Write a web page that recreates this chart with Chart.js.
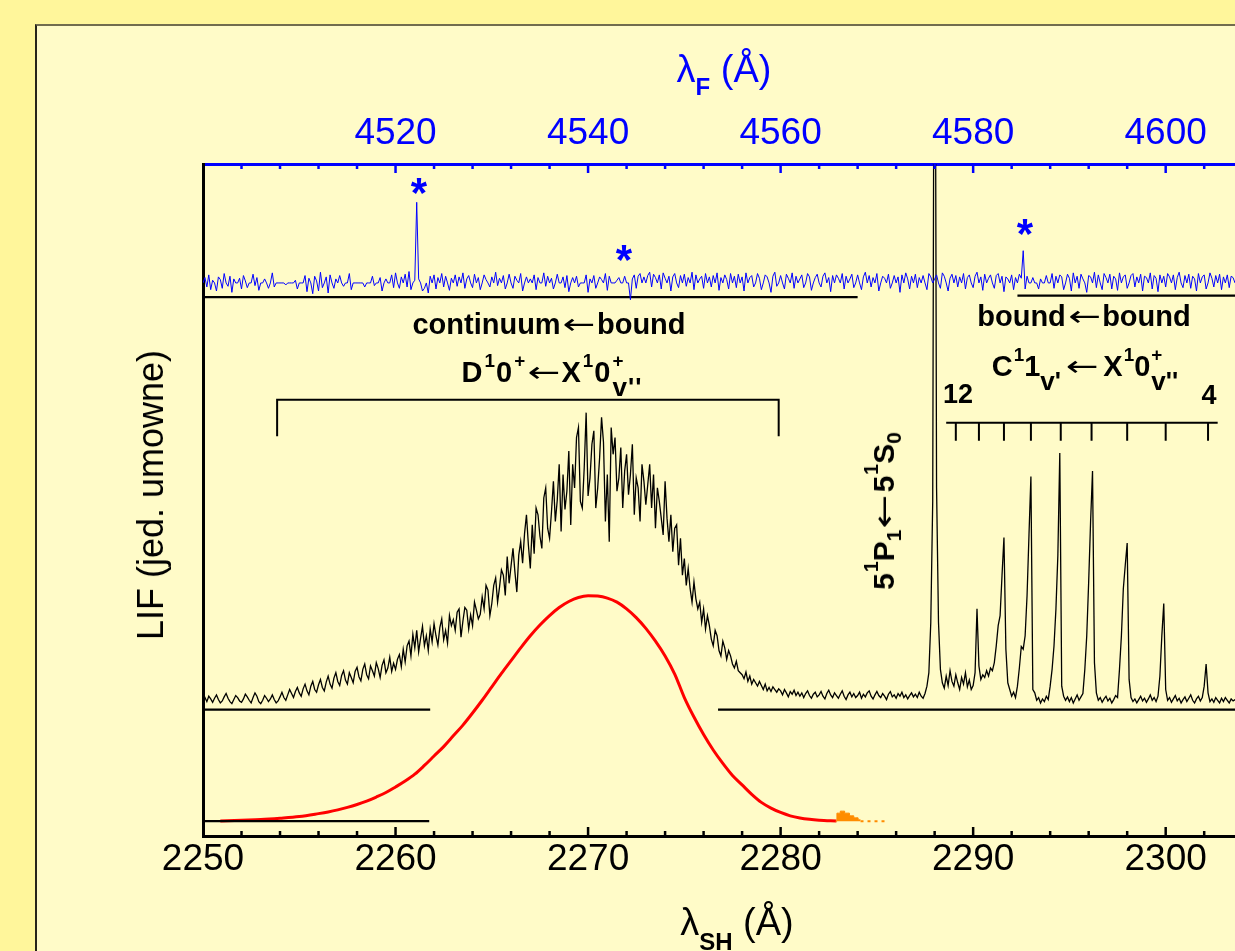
<!DOCTYPE html>
<html><head><meta charset="utf-8">
<script src="https://cdn.jsdelivr.net/npm/chart.js@4/dist/chart.umd.min.js"></script>
<style>
html,body{margin:0;padding:0;}
body{width:1235px;height:951px;overflow:hidden;position:relative;background:#FFF69B;font-family:'Liberation Sans',Arial,sans-serif;}
#panel{position:absolute;left:35px;top:24px;width:1300px;height:1000px;background:#FFFBC8;border-left:2px solid #26241a;border-top:2px solid #716c4e;}
#c{position:absolute;left:0;top:0;z-index:1;}
.t{position:absolute;white-space:nowrap;line-height:1;z-index:2;color:#000;}
.b{font-weight:bold;}
.sp{font-size:0.65em;position:relative;top:-0.8em;margin-left:1px;}
.sp0{font-size:0.65em;position:relative;top:-0.8em;display:inline-block;width:0;margin-left:1px;}
.sb{font-size:0.9em;position:relative;top:0.55em;}
.sb2{font-size:0.7em;position:relative;top:0.35em;}
.ar{font-family:'DejaVu Sans',sans-serif;font-weight:normal;display:inline-block;transform:scaleX(1.35);margin:0 6px;}
.sbt{font-weight:bold;position:relative;}
.ast{position:absolute;width:40px;text-align:center;font-weight:bold;font-size:42px;line-height:1;color:#0000FF;z-index:2;}
</style></head>
<body>
<div id="panel"></div>
<canvas id="c" width="1235" height="951"></canvas>

<div class="t" style="left:724px;top:50px;font-size:38px;color:#0000FF;transform:translateX(-50%)">λ<span class="sbt" style="font-size:24px;top:13px">F</span> (Å)</div>
<div class="t" style="left:737px;top:903px;font-size:38px;transform:translateX(-50%)">λ<span class="sbt" style="font-size:24px;top:15px">SH</span> (Å)</div>
<div class="t" style="left:151px;top:495px;font-size:36px;transform:translate(-50%,-50%) rotate(-90deg)">LIF (jed. umowne)</div>

<div class="ast" style="left:399px;top:172px">*</div>
<div class="ast" style="left:604px;top:239px">*</div>
<div class="ast" style="left:1005px;top:213px">*</div>

<div class="t b" style="left:549px;top:310px;font-size:29px;transform:translateX(-50%)">continuum<span class="ar">←</span>bound</div>
<div class="t b" style="left:552px;top:358px;font-size:29px;letter-spacing:1px;transform:translateX(-50%)">D<span class="sp">1</span>0<span class="sp">+</span><span class="ar" style="margin:0 5px">←</span>X<span class="sp">1</span>0<span class="sp0">+</span><span class="sb">v''</span></div>
<div class="t b" style="left:1084px;top:302px;font-size:29px;transform:translateX(-50%)">bound<span class="ar">←</span>bound</div>
<div class="t b" style="left:1085px;top:352px;font-size:29px;transform:translateX(-50%)">C<span class="sp">1</span>1<span class="sb">v'</span><span class="ar" style="margin:0 9px">←</span>X<span class="sp">1</span>0<span class="sp0">+</span><span class="sb">v''</span></div>
<div class="t b" style="left:958px;top:381px;font-size:27px;transform:translateX(-50%)">12</div>
<div class="t b" style="left:1209px;top:382px;font-size:27px;transform:translateX(-50%)">4</div>
<div class="t b" style="left:884px;top:511px;font-size:30px;transform:translate(-50%,-50%) rotate(-90deg)">5<span class="sp">1</span>P<span class="sb2">1</span><span class="ar">←</span>5<span class="sp">1</span>S<span class="sb2">0</span></div>

<script>
// ---------------- data ----------------
// bottom axis: second-harmonic wavelength (Å); top axis: fundamental wavelength (Å)
const shTickLabels = [2250, 2260, 2270, 2280, 2290, 2300];
const fTickLabels = [4520, 4540, 4560, 4580, 4600];

// LIF excitation spectrum (black), sampled every 0.1 Å from 2250.0 Å
const blackStart = 2250.0, blackStep = 0.1;
const blackLIF = [
14,18,12,20,16,11,17,22,15,10,
13,19,24,17,12,9,15,21,18,13,
11,16,23,19,14,10,18,25,20,12,
9,14,21,17,12,16,22,15,10,13,
19,26,18,14,22,30,24,18,27,33,
25,20,31,38,28,22,35,42,30,26,
37,45,33,28,41,50,38,32,47,55,
42,36,51,58,44,38,55,48,40,57,
63,49,43,60,68,52,46,65,58,50,
70,61,48,66,74,55,62,78,57,69,
60,75,82,64,90,71,95,102,80,112,
92,118,86,106,124,95,110,88,120,101,
128,110,96,122,135,104,118,99,140,125,
134,118,145,150,108,132,152,148,120,141,
125,160,148,135,142,168,150,185,178,140,
158,185,196,160,182,208,200,170,228,188,
214,240,205,175,230,250,218,262,290,245,
210,275,232,300,290,258,240,315,330,270,
255,295,340,280,312,365,265,350,298,325,
385,275,365,330,405,420,310,300,360,442,
318,345,395,415,300,330,375,435,398,280,
350,250,420,380,405,325,345,390,300,355,
380,320,350,395,290,345,330,280,365,340,
305,335,365,300,350,270,330,310,285,260,
340,285,250,290,235,270,275,215,255,200,
225,185,210,180,160,190,165,150,160,130,
150,120,140,125,105,95,118,110,88,80,
102,92,75,88,80,68,62,72,58,55,
52,46,56,42,50,38,45,40,35,42,
36,30,38,28,33,27,34,30,26,31,
28,22,30,25,19,27,23,29,21,26,
20,25,18,24,28,21,17,23,26,19,
22,27,20,16,24,29,22,18,25,21,
17,23,28,20,15,22,26,19,24,18,
21,26,17,23,19,25,28,20,16,22,
27,21,18,24,20,15,23,27,19,22,
17,24,20,26,18,22,16,21,25,19,
23,18,26,20,17,24,35,55,130,310,
1400,330,130,60,40,32,50,36,58,42,
35,52,40,30,48,38,55,34,44,30,
36,55,150,65,45,52,48,58,50,62,
58,70,95,125,140,200,256,90,40,30,
20,26,18,35,62,94,90,110,170,260,
347,30,25,14,18,10,16,12,20,15,
35,60,95,150,230,382,35,20,14,19,
12,18,10,16,22,14,19,24,60,110,
190,280,355,70,25,14,18,11,16,20,
13,17,10,15,21,18,60,110,180,215,
248,45,18,12,16,10,15,20,13,17,
11,16,22,14,18,12,20,50,110,158,
30,14,18,11,16,21,13,17,10,15,
19,12,17,22,14,10,16,20,13,18,
35,68,25,12,16,11,18,14,10,17,
12,18,14,10,16,13,15
];

// fluorescence spectrum (blue), sampled every 0.2 Å of lambda_F from 4500.0 Å
const blueStart = 4500.0, blueStep = 0.2;
const blueLIF = [
0,8,-6,12,-10,4,0,-12,9,5,
-8,14,0,-5,10,-14,6,0,0,7,
-9,11,3,-7,0,0,13,-4,8,-11,
0,0,6,0,-8,0,15,-6,0,0,
0,0,0,-3,0,0,0,0,4,-9,
0,0,0,11,-13,7,0,-16,10,3,
-12,16,-7,0,9,-15,12,0,-8,6,
0,11,0,-5,0,0,14,-10,0,0,
0,0,0,0,-6,0,0,0,10,-4,
0,0,8,-12,0,6,0,0,12,-7,
15,0,-8,9,0,13,-6,17,-10,0,
4,120,6,0,-12,-8,0,-15,10,0,
12,-9,8,0,14,-6,10,0,-11,7,
0,12,-5,9,0,15,-8,6,11,0,
-7,13,0,8,-10,0,12,5,0,-6,
9,0,16,-4,7,0,11,-9,0,13,
0,-8,10,4,0,14,-12,0,9,0,
6,0,12,-10,8,0,0,15,-5,10,
0,7,-9,0,13,0,0,9,-7,11,
-13,0,8,0,10,-6,0,0,0,12,
-14,6,0,11,-8,0,9,5,0,14,
-11,10,0,0,0,4,8,0,0,10,
0,0,-25,6,12,-8,10,14,0,9,
0,11,16,-6,13,8,0,12,-9,15,
7,0,10,-12,9,14,0,-7,11,0,
13,-5,8,0,16,-10,12,0,6,10,
-8,14,0,9,-6,11,0,15,-11,8,
0,12,5,-9,14,0,10,-7,13,0,
9,-12,15,0,8,11,-6,0,14,7,
-10,0,12,9,0,-14,10,16,-5,0,
11,0,-9,13,7,0,15,-8,10,0,
6,12,-7,0,14,9,-11,0,8,13,
0,-6,10,15,0,8,-13,11,0,12,
7,0,14,-9,10,0,6,13,-7,0,
12,0,-10,9,16,0,11,-6,8,0,
14,-12,0,10,7,0,13,-8,0,11,
0,9,-14,12,0,15,6,-9,10,0,
13,-7,8,0,11,0,-10,14,9,0,
6,12,0,-8,15,10,0,-12,7,13,
0,11,-6,9,0,14,-9,8,12,0,
-7,10,16,0,9,-11,13,0,7,12,
0,-8,11,14,0,10,-13,9,6,0,
12,-10,8,0,13,7,48,-9,10,0,
0,8,0,0,-9,6,0,0,11,0,
0,14,-8,10,0,12,9,-10,0,13,
7,-12,15,0,10,-8,13,6,0,-14,
11,9,0,16,-7,12,0,-10,14,8,
0,13,-9,10,6,-11,15,0,9,12,
-8,0,11,14,-6,9,0,13,-12,10,
8,0,15,-9,11,7,-13,12,0,10,
-6,14,9,0,12,-10,8,16,0,-7,
11,0,13,-8,10,6,-12,14,0,9,
12,-9,0,15,7,-6,11,0,13,-10,
9,0,12,-7,10,8,0
];

// simulated continuum profile (red)
const fitLambda = [2250.9,2252,2253,2254,2255,2256,
  2256.5,2257,2257.5,2258,2258.5,2259,2259.5,2260,2260.5,2261,
  2261.5,2262,2262.5,2263,2263.5,2264,2264.5,2265,2265.5,2266,
  2266.5,2267,2267.5,2268,2268.5,2269,2269.5,2270,2270.5,2271,
  2271.5,2272,2272.5,2273,2273.5,2274,2274.5,2275,2275.5,2276,
  2276.5,2277,2277.5,2278,2278.5,2279,2279.5,2280,2280.5,2281,
  2281.5,2282,2282.9];
const fitLIF = [0.5,1.6,2.5,4.4,6.9,11.3,
  13.8,16.9,20.6,24.9,29.9,36,42.7,51,59.8,70,
  83,97,111,127,143,161,180,200,220,239,
  258,276,292,306,318,327,333,335.5,335,332,
  326,316,303,287,268,246,219,184,155,129,
  106,86,68,54,40,28,19.5,13,8,4.8,
  2.8,1.6,0.5];

// bound-bound tail of the simulation (orange)
const fcLambda = [2282.85,2283.0,2283.2,2283.45,2283.7,2283.9,2284.15];
const fcLIF    = [0,12,15,12,8,5,2];
const fcTailLambda = [2284.15, 2285.4];

// C1(v') progression markers, v' = 12 ... 4
const combLambda = [2289.1,2290.3,2291.6,2293.0,2294.55,2296.15,2298.0,2300.0,2302.2];
// continuum bracket ends
const bracketLambda = [2253.85, 2279.9];

// ---------------- layout constants (chart units) ----------------
const SH_MIN = 2250, SH_MAX = 2303.6;
const F_MIN = 2 * SH_MIN, F_MAX = 2 * SH_MAX;
const BASE_RED = 22, BASE_BLACK = 188, BASE_BLUE = 823;
const LINE_BLUE_L = 802, LINE_BLUE_R = 804;
const BRACKET_TOP = 649, BRACKET_BOT = 595;
const COMB_TOP = 615, COMB_BOT = 588;
const FONT = "'Liberation Sans', Arial, sans-serif";

const seq = (start, step, vals, base) => vals.map((v, i) => ({x: +(start + i * step).toFixed(2), y: base + v}));
const pairs = (xs, ys, base) => xs.map((x, i) => ({x, y: base + ys[i]}));
const seg = (x0, x1, y) => [{x: x0, y}, {x: x1, y}];
const L = (data, color, width, extra) => Object.assign({data, borderColor: color, borderWidth: width, pointRadius: 0, fill: false, tension: 0, xAxisID: 'x', yAxisID: 'y'}, extra || {});

const combTicks = [];
combLambda.forEach(l => { combTicks.push({x: l, y: COMB_TOP}, {x: l, y: COMB_BOT}, {x: l, y: null}); });

const datasets = [
  L(seq(blueStart, blueStep, blueLIF, BASE_BLUE), '#0000FF', 1, {xAxisID: 'x2'}),
  L(seg(SH_MIN, 2284.0, LINE_BLUE_L), '#000', 2.2),
  L(seg(2292.3, SH_MAX, LINE_BLUE_R), '#000', 2.2),
  L(seq(blackStart, blackStep, blackLIF, BASE_BLACK), '#000', 1.3),
  L(seg(SH_MIN, 2261.8, BASE_BLACK), '#000', 2.2),
  L(seg(2276.75, SH_MAX, BASE_BLACK), '#000', 2.2),
  L(seg(SH_MIN, 2261.75, BASE_RED), '#000', 2.2),
  L(pairs(fcLambda, fcLIF, BASE_RED), '#FF8C00', 1, {fill: {value: BASE_RED}, backgroundColor: '#FF8C00', stepped: 'middle'}),
  L(fcTailLambda.map(x => ({x, y: BASE_RED})), '#FF8C00', 2, {borderDash: [3, 4]}),
  L(pairs(fitLambda, fitLIF, BASE_RED), '#FF0000', 3, {cubicInterpolationMode: 'monotone'}),
  L([{x: bracketLambda[0], y: BRACKET_BOT}, {x: bracketLambda[0], y: BRACKET_TOP}, {x: bracketLambda[1], y: BRACKET_TOP}, {x: bracketLambda[1], y: BRACKET_BOT}], '#000', 2),
  L(seg(2288.6, 2302.7, COMB_TOP), '#000', 2),
  L(combTicks, '#000', 2, {spanGaps: false})
];

// inside tick marks on bottom and top axes
const insideTicks = {
  id: 'insideTicks',
  afterDraw(chart) {
    const {ctx, chartArea: a, scales} = chart;
    ctx.save();
    ctx.lineWidth = 2.5;
    ctx.strokeStyle = '#000';
    for (let v = SH_MIN + 2; v <= SH_MAX; v += 2) {
      const px = scales.x.getPixelForValue(v);
      const len = (v % 10 === 0) ? 9 : 5;
      ctx.beginPath(); ctx.moveTo(px, a.bottom); ctx.lineTo(px, a.bottom - len); ctx.stroke();
    }
    ctx.strokeStyle = '#0000FF';
    for (let v = F_MIN + 4; v <= F_MAX; v += 4) {
      const px = scales.x2.getPixelForValue(v);
      const len = (v % 20 === 0) ? 9 : 5;
      ctx.beginPath(); ctx.moveTo(px, a.top); ctx.lineTo(px, a.top + len); ctx.stroke();
    }
    ctx.restore();
  }
};

new Chart(document.getElementById('c'), {
  type: 'line',
  data: {datasets},
  options: {
    responsive: false, devicePixelRatio: 1, animation: false, events: [],
    layout: {padding: 0},
    plugins: {legend: {display: false}, tooltip: {enabled: false}},
    scales: {
      x: {
        type: 'linear', position: 'bottom', min: SH_MIN, max: SH_MAX,
        afterFit: s => { s.height = 115; },
        afterBuildTicks: s => { s.ticks = shTickLabels.map(v => ({value: v})); },
        grid: {display: false, drawTicks: false},
        border: {display: true, color: '#000', width: 3},
        ticks: {color: '#000', font: {family: FONT, size: 37}, padding: 2, maxRotation: 0, autoSkip: false, callback: v => String(v)}
      },
      x2: {
        type: 'linear', position: 'top', min: F_MIN, max: F_MAX,
        afterFit: s => { s.height = 164; },
        afterBuildTicks: s => { s.ticks = fTickLabels.map(v => ({value: v})); },
        grid: {display: false, drawTicks: false},
        border: {display: true, color: '#0000FF', width: 3},
        ticks: {color: '#0000FF', font: {family: FONT, size: 37}, padding: 8, maxRotation: 0, autoSkip: false, callback: v => String(v)}
      },
      y: {
        type: 'linear', position: 'left', min: 0, max: 1000,
        afterFit: s => { s.width = 203; },
        grid: {display: false, drawTicks: false},
        border: {display: true, color: '#000', width: 3},
        ticks: {display: false}
      }
    }
  },
  plugins: [insideTicks]
});
</script>
</body></html>
